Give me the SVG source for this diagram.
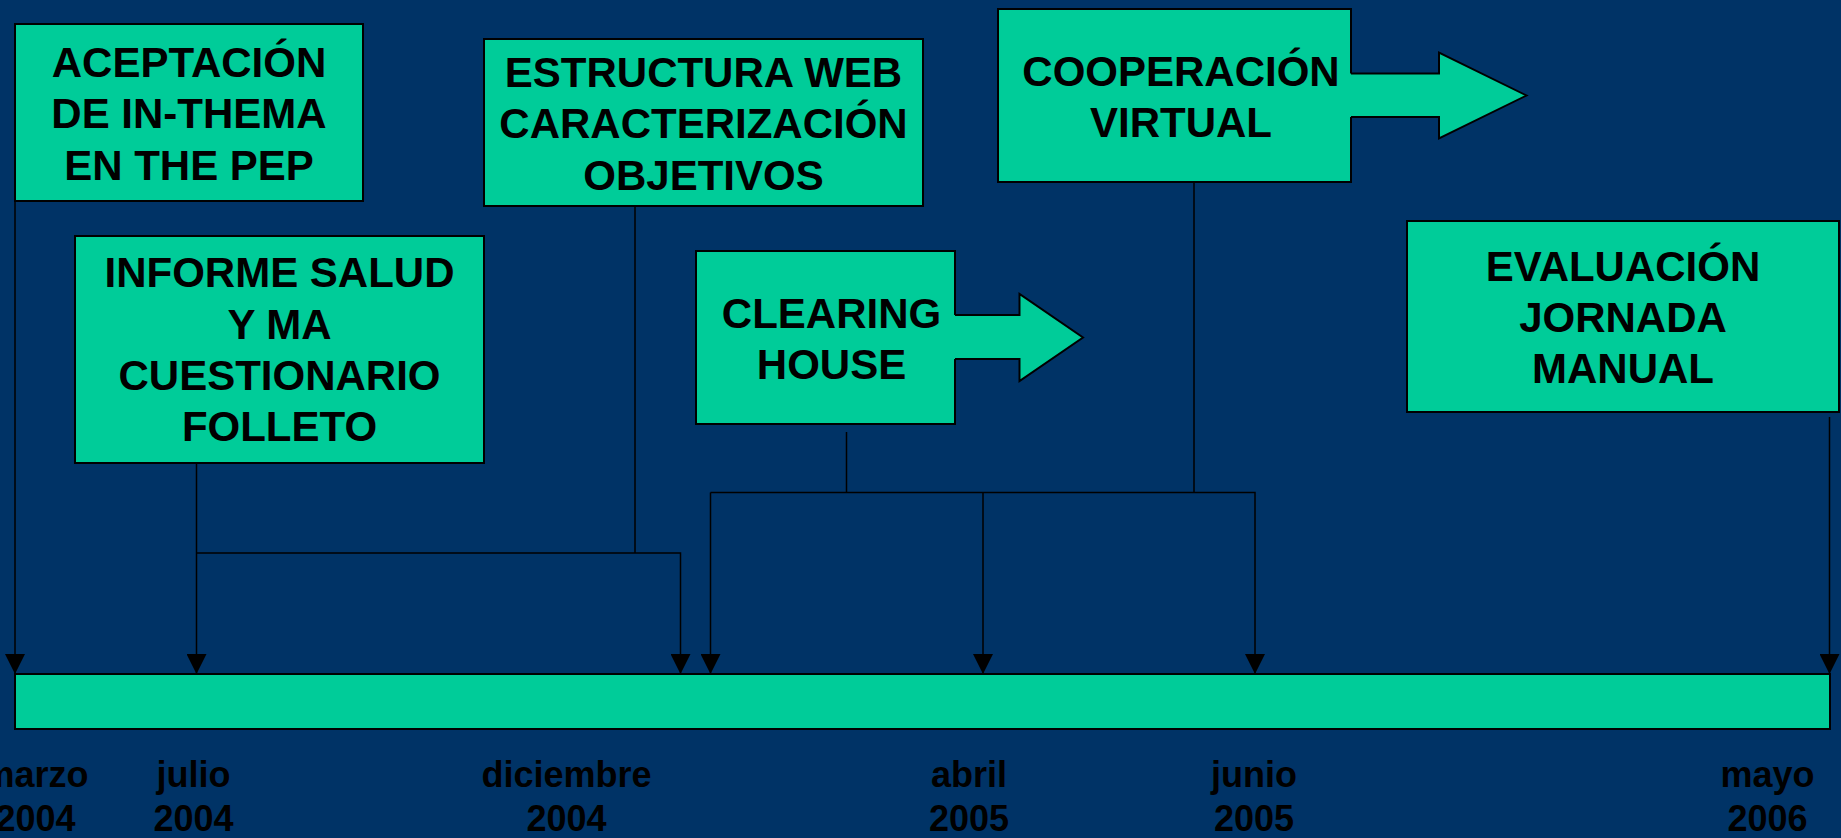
<svg xmlns="http://www.w3.org/2000/svg" width="1841" height="838" viewBox="0 0 1841 838">
<defs>
<style>
.box{fill:#00CC99;stroke:#000;stroke-width:2}
.fill{fill:#00CC99;stroke:none}
.edge{fill:none;stroke:#000;stroke-width:2}
.t{font-family:"Liberation Sans",Arial,sans-serif;font-weight:bold;font-size:42px;fill:#000;text-anchor:middle}
.d{font-family:"Liberation Sans",Arial,sans-serif;font-weight:bold;font-size:36px;fill:#000;text-anchor:middle}
.ln{fill:none;stroke:#000;stroke-width:1.5}
</style>
<marker id="ah" markerUnits="userSpaceOnUse" markerWidth="20" markerHeight="20" refX="20" refY="10" orient="auto" viewBox="0 0 20 20">
<path d="M0,0 L20,10 L0,20 z" fill="#000"/>
</marker>
</defs>
<rect x="0" y="0" width="1841" height="838" fill="#003366"/>

<g id="connectors">
<line class="ln" x1="15" y1="201" x2="15" y2="674" marker-end="url(#ah)"/>
<line class="ln" x1="196.5" y1="463" x2="196.5" y2="674" marker-end="url(#ah)"/>
<polyline class="ln" points="196.5,553 680.5,553 680.5,674" marker-end="url(#ah)"/>
<line class="ln" x1="635" y1="206" x2="635" y2="553"/>
<line class="ln" x1="846.5" y1="432" x2="846.5" y2="492.5"/>
<line class="ln" x1="1194" y1="182" x2="1194" y2="492.5"/>
<line class="ln" x1="710.5" y1="492.5" x2="710.5" y2="674" marker-end="url(#ah)"/>
<polyline class="ln" points="710.5,492.5 1255,492.5 1255,674" marker-end="url(#ah)"/>
<line class="ln" x1="983" y1="492.5" x2="983" y2="674" marker-end="url(#ah)"/>
<line class="ln" x1="1829.5" y1="417" x2="1829.5" y2="674" marker-end="url(#ah)"/>
</g>

<g id="timeline">
<rect class="box" x="15" y="674" width="1815" height="55"/>
</g>

<g id="node-aceptacion">
<rect class="box" x="15" y="24" width="348" height="177"/>
<text class="t" x="189" y="77">ACEPTACIÓN</text>
<text class="t" x="189" y="128">DE IN-THEMA</text>
<text class="t" x="189" y="180">EN THE PEP</text>
</g>

<g id="node-informe">
<rect class="box" x="75" y="236" width="409" height="227"/>
<text class="t" x="279.5" y="287">INFORME SALUD</text>
<text class="t" x="279.5" y="339">Y MA</text>
<text class="t" x="279.5" y="390">CUESTIONARIO</text>
<text class="t" x="279.5" y="441">FOLLETO</text>
</g>

<g id="node-estructura">
<rect class="box" x="484" y="39" width="439" height="167"/>
<text class="t" x="703.5" y="87">ESTRUCTURA WEB</text>
<text class="t" x="703.5" y="138">CARACTERIZACIÓN</text>
<text class="t" x="703.5" y="190">OBJETIVOS</text>
</g>

<g id="node-clearing">
<rect class="box" x="696" y="251" width="259" height="173"/>
<polygon class="fill" points="953,315 1019.5,315 1019.5,294 1083,337.5 1019.5,381 1019.5,359 953,359"/>
<polyline class="edge" points="955,315 1019.5,315 1019.5,294 1083,337.5 1019.5,381 1019.5,359 955,359"/>
<text class="t" x="831.5" y="328">CLEARING</text>
<text class="t" x="831.5" y="379">HOUSE</text>
</g>

<g id="node-cooperacion">
<rect class="box" x="998" y="9" width="353" height="173"/>
<polygon class="fill" points="1349,73.5 1439,73.5 1439,52.5 1526.5,95.5 1439,138.5 1439,117 1349,117"/>
<polyline class="edge" points="1351,73.5 1439,73.5 1439,52.5 1526.5,95.5 1439,138.5 1439,117 1351,117"/>
<text class="t" x="1181" y="86">COOPERACIÓN</text>
<text class="t" x="1181" y="137">VIRTUAL</text>
</g>

<g id="node-evaluacion">
<rect class="box" x="1407" y="221" width="432" height="191"/>
<text class="t" x="1623" y="281">EVALUACIÓN</text>
<text class="t" x="1623" y="332">JORNADA</text>
<text class="t" x="1623" y="383">MANUAL</text>
</g>

<g id="dates">
<text class="d" x="35.5" y="787">marzo</text>
<text class="d" x="35.5" y="831">2004</text>
<text class="d" x="193.5" y="787">julio</text>
<text class="d" x="193.5" y="831">2004</text>
<text class="d" x="566.5" y="787">diciembre</text>
<text class="d" x="566.5" y="831">2004</text>
<text class="d" x="969" y="787">abril</text>
<text class="d" x="969" y="831">2005</text>
<text class="d" x="1254" y="787">junio</text>
<text class="d" x="1254" y="831">2005</text>
<text class="d" x="1767.5" y="787">mayo</text>
<text class="d" x="1767.5" y="831">2006</text>
</g>
</svg>
